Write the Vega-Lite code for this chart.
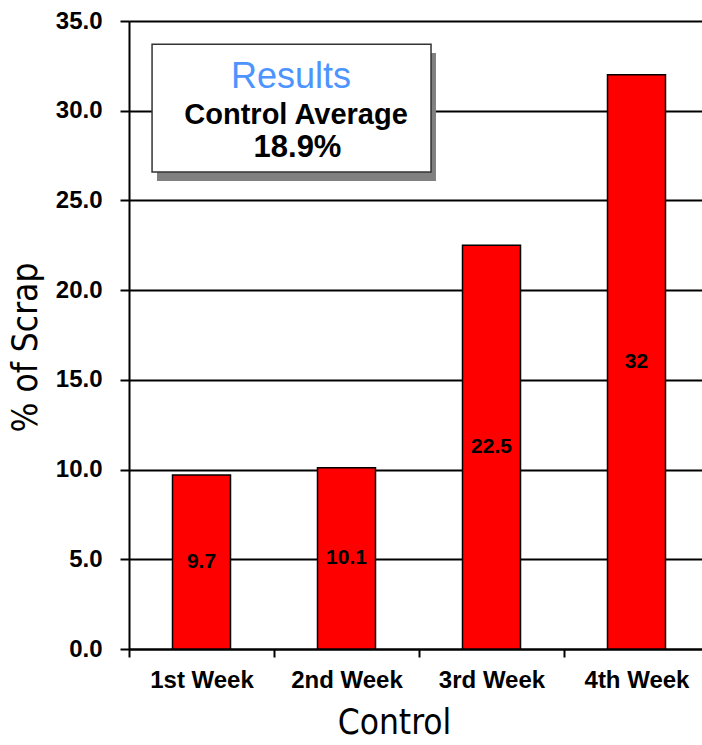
{
  "$schema": "https://vega.github.io/schema/vega-lite/v6.json",
  "width": 573,
  "height": 628,
  "autosize": "none",
  "padding": {"left": 129, "top": 21, "right": 0, "bottom": 96},
  "background": "white",
  "config": {"view": {"stroke": null}, "font": "Liberation Sans"},
  "datasets": {
    "scrap": [
      {"week": "1st Week", "scrap": 9.7},
      {"week": "2nd Week", "scrap": 10.1},
      {"week": "3rd Week", "scrap": 22.5},
      {"week": "4th Week", "scrap": 32}
    ],
    "note": [
      {"part": "heading", "text": "Results"},
      {"part": "label", "text": "Control Average"},
      {"part": "value", "text": "18.9%"}
    ]
  },
  "layer": [
    {
      "data": {"name": "scrap"},
      "mark": {"type": "bar", "fill": "#ff0000", "stroke": "#000000", "strokeWidth": 1.5, "width": {"band": 0.4}},
      "encoding": {
        "x": {
          "field": "week", "type": "nominal", "sort": null,
          "scale": {"paddingInner": 0, "paddingOuter": 0, "range": [0, 580]},
          "axis": {
            "title": "Control", "tickBand": "extent", "labelAngle": 0,
            "labelFont": "Liberation Sans", "labelFontWeight": "bold", "labelFontSize": 24, "labelColor": "#000000",
            "labelPadding": 11, "tickSize": 8, "tickWidth": 2, "tickColor": "#000000",
            "domainColor": "#000000", "domainWidth": 2,
            "titleFont": "DejaVu Sans Condensed", "titleFontSize": 35, "titleFontWeight": "normal", "titleColor": "#000000",
            "titlePadding": 13, "titleX": 265
          }
        },
        "y": {
          "field": "scrap", "type": "quantitative",
          "scale": {"domain": [0, 35], "nice": false},
          "axis": {
            "title": "% of Scrap", "values": [0, 5, 10, 15, 20, 25, 30, 35], "format": ".1f",
            "grid": true, "gridColor": "#000000", "gridWidth": 2, "gridOpacity": 1,
            "domainColor": "#000000", "domainWidth": 2, "tickColor": "#000000", "tickWidth": 2, "tickSize": 9,
            "labelFont": "Liberation Sans", "labelFontWeight": "bold", "labelFontSize": 24, "labelColor": "#000000", "labelPadding": 18,
            "titleFont": "DejaVu Sans Condensed", "titleFontSize": 35, "titleFontWeight": "normal", "titleColor": "#000000", "titlePadding": 12, "titleY": 326
          }
        }
      }
    },
    {
      "data": {"name": "scrap"},
      "mark": {"type": "text", "font": "Liberation Sans", "fontWeight": "bold", "fontSize": 21, "color": "#000000", "baseline": "middle"},
      "encoding": {
        "x": {"field": "week", "type": "nominal", "sort": null, "scale": {"paddingInner": 0, "paddingOuter": 0, "range": [0, 580]}, "axis": null},
        "y": {"field": "scrap", "type": "quantitative", "scale": {"domain": [0, 70], "nice": false}, "axis": null},
        "text": {"field": "scrap", "type": "quantitative"}
      }
    },
    {
      "data": {"name": "note"},
      "transform": [{"filter": "datum.part === 'heading'"}],
      "mark": {"type": "rect", "fill": "#808080"},
      "encoding": {
        "x": {"datum": 0.193, "type": "quantitative", "scale": {"domain": [0, 4], "range": [0, 580]}, "axis": null},
        "x2": {"datum": 2.117},
        "y": {"datum": 33.22, "type": "quantitative", "scale": {"domain": [0, 35], "nice": false}, "axis": null},
        "y2": {"datum": 26.08}
      }
    },
    {
      "data": {"name": "note"},
      "transform": [{"filter": "datum.part === 'heading'"}],
      "mark": {"type": "rect", "fill": "#ffffff", "stroke": "#333333", "strokeWidth": 1.5},
      "encoding": {
        "x": {"datum": 0.159, "type": "quantitative", "scale": {"domain": [0, 4], "range": [0, 580]}, "axis": null},
        "x2": {"datum": 2.083},
        "y": {"datum": 33.71, "type": "quantitative", "scale": {"domain": [0, 35], "nice": false}, "axis": null},
        "y2": {"datum": 26.58}
      }
    },
    {
      "data": {"name": "note"},
      "transform": [{"filter": "datum.part === 'heading'"}],
      "mark": {"type": "text", "font": "Liberation Sans", "fontSize": 36, "color": "#4d94ff", "baseline": "middle"},
      "encoding": {
        "x": {"datum": 1.117, "type": "quantitative", "scale": {"domain": [0, 4], "range": [0, 580]}, "axis": null},
        "y": {"datum": 31.88, "type": "quantitative", "scale": {"domain": [0, 35], "nice": false}, "axis": null},
        "text": {"field": "text"}
      }
    },
    {
      "data": {"name": "note"},
      "transform": [{"filter": "datum.part === 'label'"}],
      "mark": {"type": "text", "font": "Liberation Sans", "fontWeight": "bold", "fontSize": 29, "color": "#000000", "baseline": "middle"},
      "encoding": {
        "x": {"datum": 1.152, "type": "quantitative", "scale": {"domain": [0, 4], "range": [0, 580]}, "axis": null},
        "y": {"datum": 29.76, "type": "quantitative", "scale": {"domain": [0, 35], "nice": false}, "axis": null},
        "text": {"field": "text"}
      }
    },
    {
      "data": {"name": "note"},
      "transform": [{"filter": "datum.part === 'value'"}],
      "mark": {"type": "text", "font": "Liberation Sans", "fontWeight": "bold", "fontSize": 31, "color": "#000000", "baseline": "middle"},
      "encoding": {
        "x": {"datum": 1.162, "type": "quantitative", "scale": {"domain": [0, 4], "range": [0, 580]}, "axis": null},
        "y": {"datum": 27.92, "type": "quantitative", "scale": {"domain": [0, 35], "nice": false}, "axis": null},
        "text": {"field": "text"}
      }
    }
  ],
  "resolve": {"scale": {"x": "independent", "y": "independent"}}
}
